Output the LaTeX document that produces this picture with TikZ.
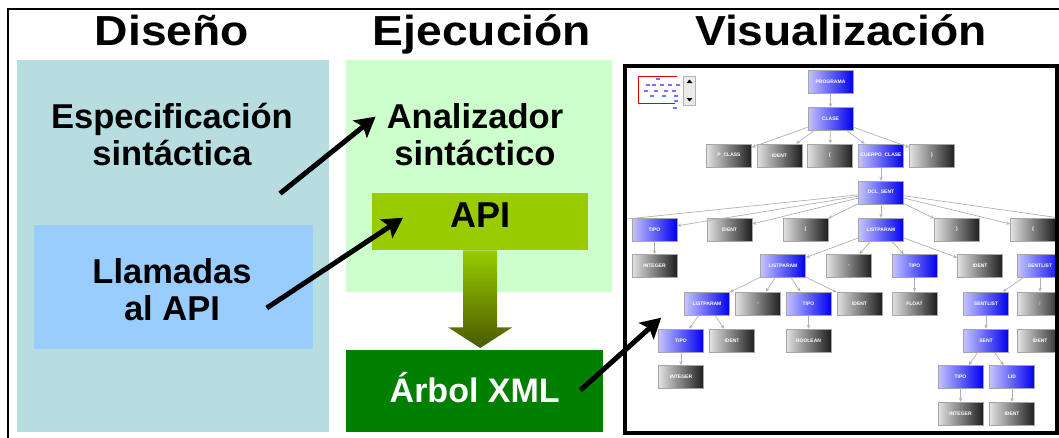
\documentclass[tikz,border=0pt]{standalone}
\usepackage{fontspec}
\setmainfont{Liberation Sans}
\usetikzlibrary{arrows.meta, positioning, calc}
\definecolor{disenocol}{HTML}{B7DDE0}
\definecolor{llamcol}{HTML}{99CCFF}
\definecolor{ejeccol}{HTML}{CCFFCC}
\definecolor{apicol}{HTML}{99CC00}
\definecolor{xmlcol}{HTML}{007F00}
\definecolor{olivecol}{HTML}{4A5A00}
\definecolor{nodeblueL}{HTML}{C4C4FF}
\definecolor{nodeblueR}{HTML}{0000EE}
\definecolor{nodegrayL}{HTML}{E2E2E2}
\definecolor{nodegrayR}{HTML}{1E1E1E}
\tikzset{
    panel/.style={
        anchor=north west,
        inner sep=0pt
    },
    titletext/.style={
        anchor=base,
        inner sep=0pt,
        font=\fontsize{42}{46}\selectfont\bfseries
    },
    bigtext/.style={
        align=center,
        inner sep=0pt,
        font=\fontsize{34.5}{37}\selectfont\bfseries
    },
    bigarrow/.style={line width=5pt, -{Stealth[length=20pt,width=22pt,inset=4pt]}},
    tnode/.style={
        draw=gray!70,
        line width=0.6pt,
        minimum width=45pt,
        minimum height=23pt,
        inner sep=0pt,
        text=white,
        font=\fontsize{5}{6}\selectfont\bfseries
    },
    bnode/.style={tnode, left color=nodeblueL, right color=nodeblueR},
    gnode/.style={tnode, left color=nodegrayL, right color=nodegrayR},
    tedge/.style={draw=gray!60, line width=0.7pt, -{Stealth[length=4pt,width=3.5pt]}}
}

\begin{document}
\begin{tikzpicture}[x=1pt,y=-1pt]
\useasboundingbox (0,0) rectangle (1059,437);
\fill[white] (0,0) rectangle (1059,437);

% outer frame
\draw[line width=2pt] (8,9) rectangle (1080,460);

% titles
\node[titletext] (tDis) at (172,45) {\scalebox{1.1}[1]{Diseño}};
\node[titletext] (tEje) at (482,45) {\scalebox{1.1}[1]{Ejecución}};
\node[titletext] (tVis) at (841,45) {\scalebox{1.1}[1]{Visualización}};

% design column
\node[panel, fill=disenocol, minimum width=312pt, minimum height=372pt] (disPanel) at (17,60) {};
\node[panel, fill=llamcol, minimum width=279pt, minimum height=124pt] (llamBox) at (34,225) {};
\node[bigtext] (espec) at (172,135) {Especificación\\sintáctica};
\node[bigtext] (llam) at (172,290) {Llamadas\\al API};

% execution column
\node[panel, fill=ejeccol, minimum width=266pt, minimum height=232pt] (ejePanel) at (346,60) {};
\node[bigtext] (anal) at (475,135) {Analizador\\sintáctico};
\node[panel, fill=apicol, minimum width=216pt, minimum height=57pt, text depth=14pt,
      font=\fontsize{36}{40}\selectfont\bfseries] (api) at (372,193) {API};
\node[panel, fill=xmlcol, minimum width=257pt, minimum height=82pt, text depth=8pt, text=white,
      font=\fontsize{34}{36}\selectfont\bfseries] (xml) at (346,350) {Árbol XML};

% down arrow api -> xml
\shade[top color=apicol, bottom color=olivecol]
  ($(api.south)+(-17,0)$) -- ($(api.south)+(17,0)$) -- ($(api.south)+(17,77)$)
  -- ($(api.south)+(32,77)$) -- ($(api.south |- xml.north)+(0,-2)$)
  -- ($(api.south)+(-32,77)$) -- ($(api.south)+(-17,77)$) -- cycle;

% visualization: parse tree
\begin{scope}
\clip (625,66) rectangle (1057,433);
\fill[white] (625,66) rectangle (1057,433);

% mini map
\draw[red!85!black, line width=0.8pt] (677,76) -- (638,76) -- (638,103) -- (675,103);
\foreach \mx/\my in {656/78, 646/84, 652/84, 660/84, 668/84, 676/84, 644/90, 654/90, 664/90, 672/90, 650/95, 662/95, 674/95, 674/100, 673/107}
  \fill[blue!55] (\mx,\my) rectangle ++(4,2);
\node[draw=gray!60, fill=gray!15, minimum width=12pt, minimum height=29pt, inner sep=0pt] (scroll) at (689.5,90.5) {};
\fill (686.5,83) -- (692.5,83) -- (689.5,79.5) -- cycle;
\fill (686.5,98) -- (692.5,98) -- (689.5,101.5) -- cycle;

% rows 0-3
\node[bnode] (programa) at (830.5,82) {PROGRAMA};
\node[bnode] (clase) at (830.5,119) {CLASE};
\node[gnode] (pclass) at (729,155.5) {P\_CLASS};
\node[gnode] (identA) at (779.5,155.5) {IDENT};
\node[gnode] (lparA) at (830,155.5) {(};
\node[bnode] (cuerpo) at (881,155.5) {CUERPO\_CLASE};
\node[gnode] (rparA) at (932,155.5) {)};
\node[bnode] (dclsent) at (881,192.5) {DCL\_SENT};

% row 4
\node[bnode] (tipoA) at (654.5,229.5) {TIPO};
\node[gnode] (identB) at (729.5,229.5) {IDENT};
\node[gnode] (lparB) at (805.5,229.5) {(};
\node[bnode] (listA) at (881,229.5) {LISTPARAM};
\node[gnode] (rparB) at (957,229.5) {)};
\node[gnode] (llaveA) at (1033,229.5) {\{};
\coordinate (offL) at (560,226);
\coordinate (offR) at (1130,228);

% row 5
\node[gnode] (integerA) at (654.5,266) {INTEGER};
\node[bnode] (listB) at (783,266) {LISTPARAM};
\node[gnode] (comaA) at (849,266) {,};
\node[bnode] (tipoB) at (914.5,266) {TIPO};
\node[gnode] (identC) at (980,266) {IDENT};
\node[bnode] (sentlA) at (1040,266) {SENTLIST};

% row 6
\node[bnode] (listC) at (707,303.5) {LISTPARAM};
\node[gnode] (comaB) at (758,303.5) {,};
\node[bnode] (tipoC) at (808.5,303.5) {TIPO};
\node[gnode] (identD) at (859.5,303.5) {IDENT};
\node[gnode] (floatA) at (914.5,303.5) {FLOAT};
\node[bnode] (sentlB) at (986,303.5) {SENTLIST};
\node[gnode] (semi) at (1040,303.5) {;};

% rows 7-9
\node[bnode] (tipoD) at (681,340.5) {TIPO};
\node[gnode] (identE) at (732,340.5) {IDENT};
\node[gnode] (boolA) at (808.5,340.5) {BOOLEAN};
\node[bnode] (sent) at (986,340.5) {SENT};
\node[gnode] (identF) at (1040,340.5) {IDENT};
\node[gnode] (integerB) at (681,377) {INTEGER};
\node[bnode] (tipoE) at (960.5,377) {TIPO};
\node[bnode] (lid) at (1012,377) {LID};
\node[gnode] (integerC) at (960.5,413.5) {INTEGER};
\node[gnode] (identG) at (1012,413.5) {IDENT};

% tree edges
\draw[tedge] (programa) -- (clase);
\foreach \c in {pclass,identA,lparA,cuerpo,rparA} \draw[tedge] (clase) -- (\c);
\draw[tedge] (cuerpo) -- (dclsent);
\foreach \c in {tipoA,identB,lparB,listA,rparB,llaveA,offL,offR} \draw[tedge] (dclsent) -- (\c);
\draw[tedge] (tipoA) -- (integerA);
\foreach \c in {listB,comaA,tipoB,identC} \draw[tedge] (listA) -- (\c);
\draw[tedge] (tipoB) -- (floatA);
\foreach \c in {listC,comaB,tipoC,identD} \draw[tedge] (listB) -- (\c);
\foreach \c in {tipoD,identE} \draw[tedge] (listC) -- (\c);
\draw[tedge] (tipoD) -- (integerB);
\draw[tedge] (tipoC) -- (boolA);
\foreach \c in {sentlB,semi} \draw[tedge] (sentlA) -- (\c);
\draw[tedge] (sentlB) -- (sent);
\foreach \c in {tipoE,lid} \draw[tedge] (sent) -- (\c);
\draw[tedge] (tipoE) -- (integerC);
\draw[tedge] (lid) -- (identG);
\end{scope}
\draw[line width=4pt] (625,66) rectangle (1057,433);

% big arrows
\draw[bigarrow] ($(espec.south east)+(-13,27)$) -- ($(anal.north west)+(-11,13)$);
\draw[bigarrow] ($(llam.east)+(15,18)$) -- ($(api.west)+(31,-4)$);
\draw[bigarrow] ($(xml.east)+(-23,-1)$) -- ($(tipoD.north west)+(3,-11)$);

\end{tikzpicture}
\end{document}
